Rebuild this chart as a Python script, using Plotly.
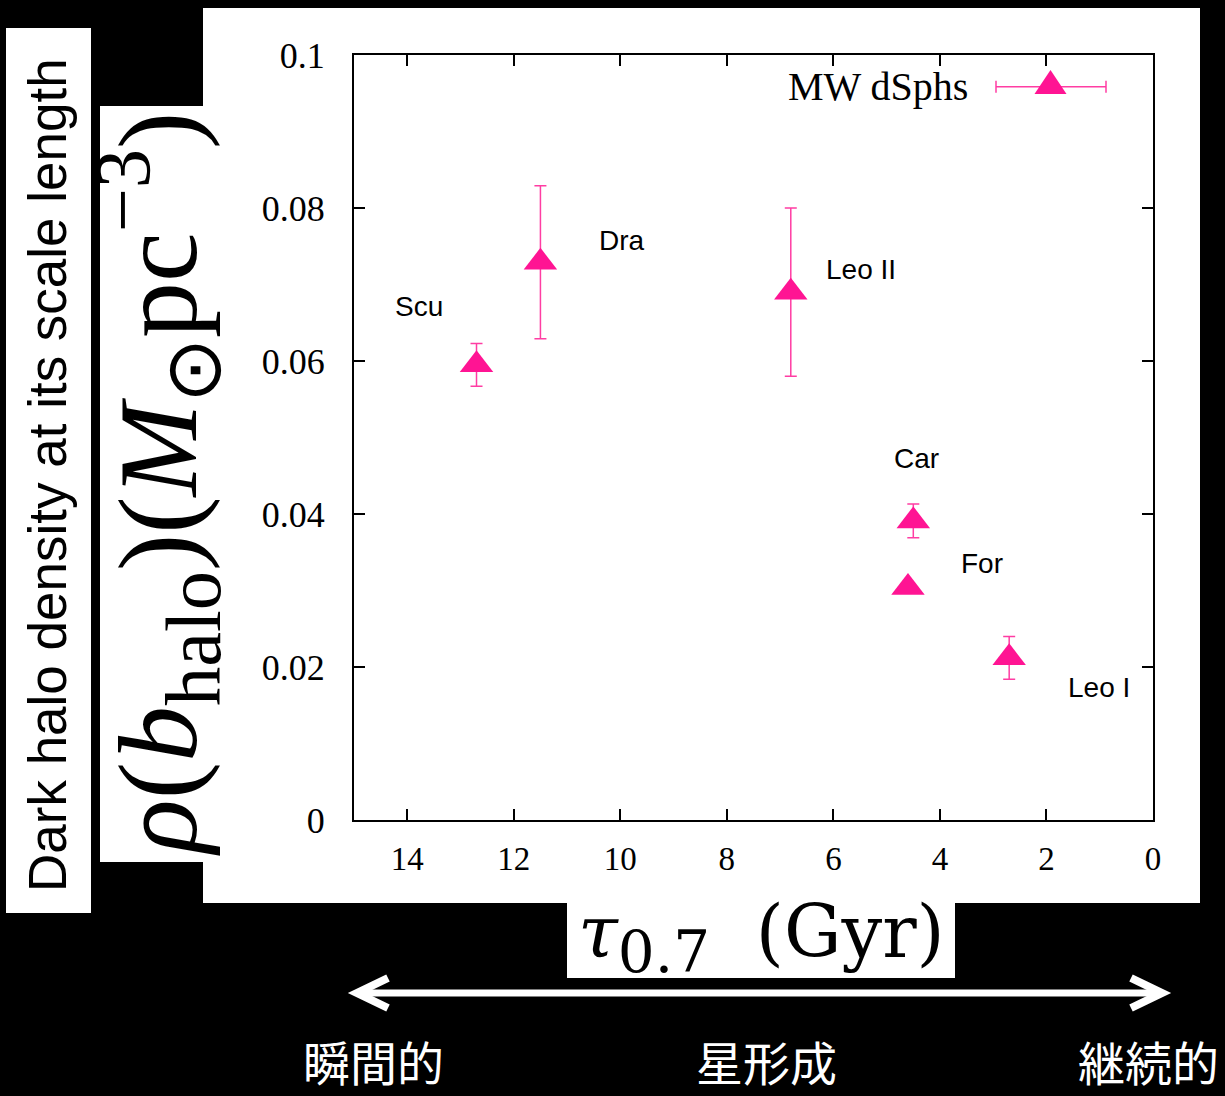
import plotly.graph_objects as go

# ---------------- data ----------------
galaxies = ["Scu", "Dra", "Leo II", "Car", "For", "Leo I"]
tau_gyr = [12.7, 11.5, 6.8, 4.5, 4.6, 2.7]
rho_halo = [0.0595, 0.0729, 0.0690, 0.0391, 0.0304, 0.0212]
rho_err = [0.0028, 0.0100, 0.0110, 0.0022, 0.0003, 0.0028]

x_tickvals = [14, 12, 10, 8, 6, 4, 2, 0]
x_ticktext = ["14", "12", "10", "8", "6", "4", "2", "0"]
y_tickvals = [0, 0.02, 0.04, 0.06, 0.08, 0.1]
y_ticktext = ["0", "0.02", "0.04", "0.06", "0.08", "0.1"]

legend_name = "MW dSphs"
bottom_words = ["瞬間的", "星形成", "継続的"]

# ---------------- layout helpers (pixel -> paper) ----------------
W, H = 1225, 1096
L, R, T, B = 354, 72, 55, 276
PW, PH = W - L - R, H - T - B


def px(x):
    return (x - L) / PW


def py(y):
    return (T + PH - y) / PH


PINK = "#ff1493"
ERR_PINK = "#ff3da3"
SERIF = "Liberation Serif"
SANS = "Liberation Sans"

fig = go.Figure()

fig.add_trace(go.Scatter(
    x=tau_gyr, y=rho_halo, mode="markers",
    marker=dict(symbol="triangle-up", size=29, color=PINK, line=dict(width=0)),
    error_y=dict(type="data", array=rho_err, visible=True,
                 color=ERR_PINK, thickness=1.5, width=6),
    showlegend=False, hoverinfo="skip",
))

# label offsets (pixels) relative to each point
label_shift = [(-58, 58), (82, 22), (70, 23), (3, 62), (74, 24), (90, -30)]
annotations = []
for g, xv, yv, (dx, dy) in zip(galaxies, tau_gyr, rho_halo, label_shift):
    annotations.append(dict(
        x=xv, y=yv, xref="x", yref="y", text=g, showarrow=False,
        xshift=dx, yshift=dy, xanchor="center", yanchor="middle",
        font=dict(family=SANS, size=28, color="black"),
    ))

# white panels
shapes = []
for (x0, y0, x1, y1) in [(203, 8, 1200, 903), (6, 28, 91, 913),
                         (100, 106, 203, 862), (567, 903, 955, 978)]:
    shapes.append(dict(type="rect", xref="paper", yref="paper",
                       x0=px(x0), x1=px(x1), y0=py(y1), y1=py(y0),
                       fillcolor="white", line=dict(width=0), layer="below"))

# legend sample (error bar + triangle)
ly = 86.7
shapes.append(dict(type="line", xref="paper", yref="paper",
                   x0=px(996), x1=px(1106), y0=py(ly), y1=py(ly),
                   line=dict(color=ERR_PINK, width=1.5)))
for cx in (996, 1106):
    shapes.append(dict(type="line", xref="paper", yref="paper",
                       x0=px(cx), x1=px(cx), y0=py(ly - 6), y1=py(ly + 6),
                       line=dict(color=ERR_PINK, width=1.5)))
tri = [(1034.5, 94), (1066.5, 94), (1050.5, 70)]
path = "M " + " L ".join(f"{px(a):.5f},{py(b):.5f}" for a, b in tri) + " Z"
shapes.append(dict(type="path", xref="paper", yref="paper", path=path,
                   fillcolor=PINK, line=dict(width=0)))

annotations.append(dict(
    x=px(970), y=py(87), xref="paper", yref="paper", text=legend_name,
    showarrow=False, xanchor="right", yanchor="middle",
    font=dict(family=SERIF, size=40, color="black")))

# white double arrow
ay = 993
shapes.append(dict(type="line", xref="paper", yref="paper",
                   x0=px(360), x1=px(1159), y0=py(ay), y1=py(ay),
                   line=dict(color="white", width=7)))
for tip, arm in ((357, 388), (1162, 1131)):
    p = (f"M {px(arm):.5f},{py(ay - 15):.5f} L {px(tip):.5f},{py(ay):.5f} "
         f"L {px(arm):.5f},{py(ay + 15):.5f}")
    shapes.append(dict(type="path", xref="paper", yref="paper", path=p,
                       line=dict(color="white", width=8)))

# Japanese labels
for word, cx in zip(bottom_words, (373, 766, 1148)):
    annotations.append(dict(
        x=px(cx), y=py(1060), xref="paper", yref="paper", text=word,
        showarrow=False, xanchor="center", yanchor="middle",
        font=dict(family="Noto Sans CJK JP", size=47, color="white")))

# axis titles
annotations.append(dict(
    x=px(47), y=py(475), xref="paper", yref="paper",
    text="Dark halo density at its scale length", textangle=-90,
    showarrow=False, xanchor="center", yanchor="middle",
    font=dict(family=SANS, size=53, color="black")))
annotations.append(dict(
    x=px(158), y=py(484), xref="paper", yref="paper",
    text="<i>ρ</i>(<i>b</i><sub>halo</sub>)(<i>M</i><sub>⊙</sub>pc<sup>−3</sup>)",
    textangle=-90, showarrow=False, xanchor="center", yanchor="middle",
    font=dict(family=SERIF, size=112, color="black")))
annotations.append(dict(
    x=px(761), y=py(938), xref="paper", yref="paper",
    text="<i>τ</i><sub><span style='font-size:58px'>0.7</span></sub>\u00a0\u00a0(Gyr)",
    showarrow=False, xanchor="center", yanchor="middle",
    font=dict(family="DejaVu Serif", size=72, color="black")))

axis_common = dict(showline=True, linecolor="black", linewidth=2, mirror="ticks",
                   ticks="inside", ticklen=11, tickwidth=1.5, tickcolor="black",
                   showgrid=False, zeroline=False)

fig.update_layout(
    width=W, height=H,
    margin=dict(l=L, r=R, t=T, b=B),
    paper_bgcolor="black", plot_bgcolor="white",
    xaxis=dict(range=[15, 0], tickvals=x_tickvals, ticktext=x_ticktext,
               tickfont=dict(family=SERIF, size=33, color="black"),
               ticklabelstandoff=8, **axis_common),
    yaxis=dict(range=[0, 0.1], tickvals=y_tickvals, ticktext=y_ticktext,
               tickfont=dict(family=SERIF, size=36, color="black"),
               ticklabelstandoff=20, **axis_common),
    shapes=shapes, annotations=annotations, showlegend=False,
)

fig.write_html(
    "out.html",
    config={"displayModeBar": False},
    post_script="document.body.style.margin='0';document.body.style.background='black';",
)
